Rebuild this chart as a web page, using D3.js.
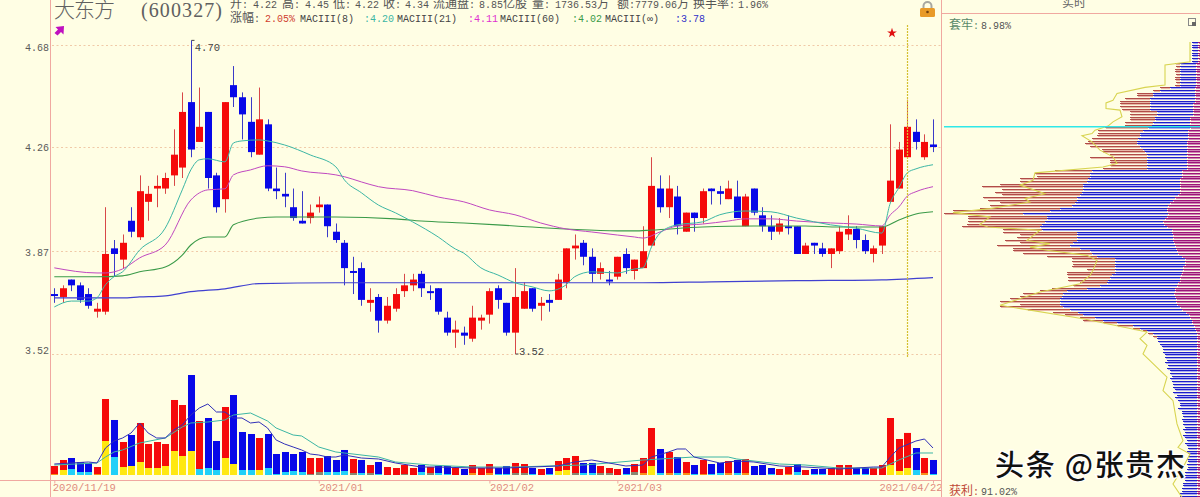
<!DOCTYPE html>
<html>
<head>
<meta charset="utf-8">
<script src="https://cdn.jsdelivr.net/npm/d3@7"></script>
<style>
  html, body { margin: 0; padding: 0; background: #fffee4; overflow: hidden; }
  svg { display: block; }
</style>
</head>
<body>
<div id="chart"></div>
<script>
// daily candles, prices
var open  = [3.72,3.71,3.77,3.75,3.72,3.66,3.66,3.88,3.84,3.98,3.92,4.05,4.10,4.10,4.15,4.18,4.44,4.28,4.40,4.15,4.06,4.51,4.46,4.36,4.23,4.35,4.10,4.08,4.03,3.98,3.99,4.03,4.04,3.94,3.90,3.80,3.81,3.69,3.71,3.63,3.67,3.73,3.75,3.79,3.73,3.74,3.64,3.59,3.59,3.57,3.63,3.65,3.74,3.69,3.59,3.67,3.74,3.68,3.70,3.70,3.76,3.88,3.90,3.85,3.79,3.77,3.78,3.86,3.80,3.81,3.89,4.10,4.03,4.07,3.94,4.01,3.99,4.10,4.09,4.06,4.07,3.96,4.10,4.00,3.96,3.94,3.96,3.96,3.86,3.90,3.88,3.86,3.87,3.93,3.95,3.91,3.86,3.89,4.05,4.10,4.22,4.32,4.22,4.27];
var close = [3.72,3.74,3.75,3.70,3.68,3.67,3.86,3.86,3.90,3.94,4.09,4.08,4.11,4.14,4.23,4.40,4.25,4.34,4.14,4.03,4.44,4.46,4.39,4.24,4.37,4.10,4.09,4.07,3.99,3.97,4.01,4.04,3.96,3.91,3.81,3.80,3.70,3.70,3.63,3.68,3.72,3.75,3.77,3.74,3.73,3.66,3.59,3.60,3.58,3.64,3.64,3.73,3.70,3.59,3.71,3.73,3.67,3.69,3.69,3.77,3.88,3.89,3.85,3.79,3.81,3.77,3.85,3.81,3.84,3.87,4.11,4.03,4.10,3.96,4.01,3.99,4.09,4.09,4.08,4.10,3.99,4.07,4.01,3.96,3.94,3.97,3.96,3.86,3.89,3.89,3.86,3.88,3.94,3.95,3.91,3.87,3.88,3.96,4.13,4.25,4.34,4.28,4.28,4.26];
var high  = [3.74,3.75,3.77,3.76,3.74,3.69,4.03,3.91,3.93,4.03,4.15,4.11,4.15,4.16,4.33,4.48,4.70,4.50,4.40,4.16,4.44,4.59,4.48,4.46,4.50,4.37,4.18,4.16,4.10,4.09,4.04,4.07,4.04,3.97,3.91,3.85,3.83,3.74,3.72,3.71,3.74,3.79,3.79,3.80,3.75,3.74,3.66,3.63,3.61,3.68,3.65,3.74,3.75,3.69,3.81,3.76,3.74,3.71,3.72,3.79,3.88,3.93,3.91,3.88,3.83,3.80,3.85,3.88,3.84,3.96,4.22,4.15,4.15,4.11,4.01,4.01,4.10,4.10,4.11,4.13,4.13,4.08,4.10,4.03,4.00,3.99,4.00,3.96,3.90,3.90,3.90,3.88,3.96,4.00,3.96,3.93,3.89,3.96,4.35,4.28,4.45,4.37,4.31,4.37];
var low   = [3.69,3.69,3.73,3.69,3.67,3.64,3.65,3.78,3.81,3.92,3.91,3.98,4.03,4.08,4.11,4.14,4.22,4.28,4.10,4.01,4.01,4.42,4.29,4.22,4.23,4.09,4.06,4.03,3.98,3.97,3.97,4.01,3.92,3.90,3.75,3.72,3.68,3.66,3.59,3.62,3.66,3.71,3.73,3.71,3.70,3.65,3.58,3.54,3.55,3.56,3.60,3.62,3.67,3.58,3.52,3.67,3.66,3.63,3.66,3.70,3.74,3.84,3.82,3.76,3.77,3.75,3.77,3.79,3.77,3.81,3.89,4.01,3.99,3.93,3.94,3.94,3.97,4.04,4.04,4.06,3.99,3.96,4.00,3.94,3.91,3.93,3.93,3.86,3.86,3.86,3.85,3.81,3.86,3.91,3.88,3.86,3.83,3.86,4.05,4.10,4.22,4.25,4.21,4.24];

// moving averages, read at the points listed in the *Idx arrays
var ma8Idx = [0,2,4,5,6,7,8,10,13,15,16,17,18,20,21,22,24,25,27,30,33,34,36,38,40,42,45,47,48,50,52,54,56,58,60,61,63,66,68,69,70,71,73,76,78,81,84,87,91,94,97,98,99,100,101,103];
var ma8 = [3.676,3.696,3.696,3.707,3.752,3.780,3.797,3.874,3.953,4.095,4.171,4.210,4.214,4.202,4.276,4.284,4.288,4.284,4.268,4.229,4.183,4.133,4.084,4.038,4.009,3.976,3.921,3.878,3.863,3.811,3.786,3.759,3.745,3.731,3.752,3.780,3.797,3.793,3.807,3.811,3.885,3.935,3.965,3.976,4.002,4.016,4.013,3.990,3.965,3.953,3.935,4.046,4.103,4.160,4.175,4.191];
var ma21Idx = [0,5,6,8,10,13,16,18,20,21,23,25,27,29,33,34,36,38,42,45,48,51,54,57,60,63,66,68,69,71,73,76,79,81,84,87,91,94,97,98,99,100,101,103];
var ma21 = [3.811,3.793,3.793,3.807,3.846,3.892,4.057,4.095,4.099,4.152,4.171,4.187,4.183,4.167,4.152,4.145,4.125,4.107,4.092,4.068,4.050,4.020,4.002,3.972,3.950,3.939,3.928,3.921,3.917,3.939,3.961,3.968,3.979,3.987,3.987,3.979,3.972,3.968,3.961,4.002,4.031,4.072,4.088,4.107];
var ma60Idx = [0,5,8,10,13,15,16,18,20,21,24,26,33,40,43,48,54,60,66,68,70,76,82,88,92,97,99,101,103];
var ma60 = [3.780,3.780,3.783,3.797,3.814,3.856,3.892,3.921,3.921,3.965,3.990,3.994,3.994,3.987,3.979,3.972,3.961,3.950,3.943,3.943,3.946,3.957,3.961,3.961,3.957,3.957,3.983,4.005,4.013];
var maInfIdx = [0,8,10,13,16,20,24,33,69,77,87,97,103];
var maInf = [3.707,3.707,3.710,3.714,3.728,3.738,3.756,3.759,3.759,3.762,3.766,3.769,3.777];

// volume in 万 shares, plus the coloured part at the foot of each bar
var volume = [372,620,702,537,496,330,3139,2272,1363,1652,2148,1280,1363,1280,3098,2891,4130,2230,2354,1404,2808,3304,1776,1693,1528,1693,867,950,867,950,702,702,785,620,1033,661,620,413,537,330,289,413,289,413,330,372,372,289,248,413,289,454,289,372,496,454,289,248,289,578,702,785,496,496,372,289,248,289,454,702,1941,1074,950,743,537,413,620,454,496,578,620,661,372,413,289,248,330,454,207,248,248,289,413,413,289,289,289,413,2354,1487,1737,1115,702,620];
var volPart = [41,207,248,124,124,41,1404,743,330,372,537,289,289,372,991,785,991,248,289,207,702,454,207,207,207,289,41,124,165,124,41,124,124,124,165,83,83,83,41,0,0,41,0,124,83,83,41,0,0,83,0,83,41,41,83,83,41,0,41,165,207,83,83,83,83,83,0,41,124,83,372,83,83,83,83,41,41,41,83,83,83,83,0,0,41,0,41,124,0,41,41,0,0,0,41,41,0,0,413,165,289,207,83,41];
// y yellow, c cyan, o orange, g grey
var volPartKind = ["o","y","c","c","c","o","y","c","y","y","y","y","y","y","y","y","y","c","c","c","y","y","c","c","y","c","c","c","c","c","g","g","c","c",
  "c","g","c","g","c","o","o","g","o","c","g","c","c","o","c","o","o","o","c","c","g","g","c","o","c","y","y","g","c","c","g","g","o","c","g",
  "o","y","c","o","c","o","c","o","c","c","o","c","o","c","c","c","o","o","c","o","c","c","o","o","o","c","c","o","o","y","y","y","c","o","c"];
var vmaShortIdx = [0,4,5,6,7,8,9,10,11,12,13,14,15,16,17,18,19,20,21,22,23,24,25,26,27,28,29,30,31,32,33,34,36,38,40,43,45,49,53,56,59,61,63,65,67,69,70,72,73,74,75,78,80,82,85,88,92,96,97,98,99,101,102,103];
var vmaShort = [454,537,496,1115,1404,1528,1735,2148,1735,1528,1528,1859,2065,2478,2767,2932,2602,2602,2354,2354,2148,2189,1941,1446,1280,1156,1033,867,826,743,743,826,702,661,496,330,330,289,289,330,372,537,620,496,372,413,743,950,1074,1074,743,496,578,537,372,330,248,330,330,743,1115,1404,1487,1115];
var vmaLongIdx = [0,5,6,7,8,10,13,15,16,18,20,21,23,25,26,28,29,31,33,34,38,40,44,49,54,58,62,65,69,71,75,79,80,85,88,92,97,99,101,103];
var vmaLong = [413,496,743,950,1033,1322,1528,1982,2148,2189,2272,2478,2561,2230,1941,1652,1611,1156,950,909,743,537,413,330,330,372,413,496,620,661,743,743,661,454,413,289,289,620,909,909];

// axis labels
var priceTicks = [4.68,4.26,3.87,3.52];
var dateTickIdx = [0,31,51,66,103];
var dateTickLabels = ["2020/11/19","2021/01","2021/02","2021/03","2021/04/22"];

// chip distribution: one row per price step, total / blue+magenta / magenta widths
var chipTotal = [8,8,8,8,8,8,8,8,25,24,25,25,24,25,25,24,25,40,47,63,63,75,80,80,80,78,70,70,70,70,75,75,95,102,102,103,108,112,115,110,98,98,90,110,90,90,90,97,145,165,163,180,180,200,218,198,205,198,217,212,200,210,220,247,256,232,232,232,233,238,197,197,180,183,195,180,203,187,187,177,153,128,128,127,128,113,133,133,132,132,120,127,148,160,177,180,190,200,180,200,173,147,135,120,117,97,83,67,57,52,47,43,42,40,38,37,37,35,35,33,35,32,33,30,30,28,30,28,27,27,25,27,23,25,22,20,20,22,18,18,17,18,17,17,15,17,15,17,15,13,15,13,12,13,12,12,13,12,13,12,13,15,15,17,15,17,17,18,18,20,20];
var chipBlue = [8,8,8,8,8,8,8,8,20,20,20,20,20,20,20,20,20,30,40,47,47,50,50,50,50,50,43,43,45,45,47,48,52,57,60,60,62,63,63,60,57,55,53,53,53,53,53,53,108,110,110,112,113,117,117,117,118,120,123,123,125,128,140,150,177,153,153,155,158,160,158,123,123,123,123,127,130,120,110,108,103,85,85,85,85,85,85,88,90,92,93,100,113,133,137,138,140,140,140,137,130,122,117,105,97,83,67,60,53,47,43];
var chipMag = [2,2,2,2,2,2,2,2,4,4,4,4,4,4,4,4,4,5,5,5,5,5,5,7,7,7,7,7,10,10,10,10,10,12,12,12,12,13,13,13,13,13,13,13,13,13,13,13,18,18,18,20,20,20,20,20,20,22,25,27,30,32,33,33,32,33,35,37,36,33,28,28,27,27,27,26,25,24,23,22,18,15,15,15,17,17,18,19,20,20,22,23,25,25,26,25,24,24,23,20,18,14,11,10,8,8,6,5,4,3,3];
var chipOutlineRow = [0,7.4,8.6,16.1,17,19.3,21.8,22.8,24.9,25.5,28,29.9,31.5,33,34.3,35.1,37.4,40.5,43,45.5,46.8,49,51.8,53.6,56.8,58.6,59.9,62.4,63.9,65.5,68.3,69.3,70.5,74.3,75.5,76.8,78,79.9,81.8,85.5,87.4,90.5,93.6,98.6,103.6,108.6,111.1,113.6,116.8,125.5,130.5,134.3,143,149.3,151.8,154.3,159.3,165.5,170.5];
var chipOutlineW = [10,10,35,35,55,83,87,94,94,80,78,87,92,105,108,118,108,100,87,83,97,165,167,180,155,175,170,210,247,210,220,212,160,173,150,170,153,113,103,107,110,120,160,200,117,53,60,53,57,33,37,27,23,17,22,10,17,27,18];

var n = open.length;

// main colours
var bg = "#fffee4";
var frame = "#f0a8a0";
var upColor = "#f50a0a";
var downColor = "#0808e8";
var ma8Color = "#3cb6a4";
var ma21Color = "#c048c0";
var ma60Color = "#3a9a48";
var maInfColor = "#4040d0";
var partColors = { y: "#ffe810", c: "#20d0f8", o: "#f89018", g: "#8a8870" };
var monoFont = "'Liberation Mono','DejaVu Sans Mono',monospace";
var cjkFont = "'Noto Sans CJK SC',sans-serif";

var svg = d3.select("#chart").append("svg")
  .attr("width", 1200)
  .attr("height", 497)
  .style("background", bg);

var x = d3.scaleLinear().domain([0, n - 1]).range([54.3, 933]);
var y = d3.scaleLog().domain([4.68, 3.52]).range([45, 354]);
var yVol = d3.scaleLinear().domain([0, 4130]).range([475, 375]);
var xChip = d3.scaleLinear().domain([0, 260]).range([1200, 940]);
var yChip = d3.scaleLinear().domain([0, 170]).range([42, 496]);

var bodyW = 7;

// grid, every tick is a dotted line
svg.append("g").selectAll("line")
  .data(priceTicks)
  .enter().append("line")
  .attr("x1", 52)
  .attr("x2", 941)
  .attr("y1", function(d){return Math.round(y(d)) + 0.5;})
  .attr("y2", function(d){return Math.round(y(d)) + 0.5;})
  .attr("stroke", "#f0caa8")
  .attr("stroke-dasharray", "2,2.5");

// price axis, the labels sit a little off their grid lines
var tickNudge = [2, 0, 1, -4];
var yAxis = d3.axisLeft(y)
  .tickValues(priceTicks)
  .tickFormat(d3.format(".2f"))
  .tickSize(0);
var yAxisG = svg.append("g")
  .attr("transform", "translate(49,0)")
  .call(yAxis);
yAxisG.select(".domain").remove();
yAxisG.selectAll("text")
  .attr("x", 0)
  .attr("y", function(d, i){return tickNudge[i];})
  .attr("dy", "0.35em")
  .attr("fill", "#5a5a5a")
  .style("font-family", monoFont)
  .style("font-size", "10px");

// date axis
var xAxis = d3.axisBottom(x)
  .tickValues(dateTickIdx)
  .tickFormat(function(d, i){return dateTickLabels[i];})
  .tickSize(3);
var xAxisG = svg.append("g")
  .attr("transform", "translate(0,480.5)")
  .call(xAxis);
xAxisG.select(".domain").remove();
xAxisG.selectAll("line").attr("stroke", frame);
xAxisG.selectAll("text")
  .attr("y", 3)
  .attr("dx", function(d){return d === 103 ? -54 : (d === 0 ? -2 : 0);})
  .attr("text-anchor", "start")
  .attr("fill", "#e08a7c")
  .style("font-family", monoFont)
  .style("font-size", "10.5px");

// wicks then bodies
var candles = svg.append("g");
candles.selectAll("line")
  .data(d3.range(n))
  .enter().append("line")
  .attr("x1", function(i){return Math.round(x(i)) + 0.5;})
  .attr("x2", function(i){return Math.round(x(i)) + 0.5;})
  .attr("y1", function(i){return y(high[i]);})
  .attr("y2", function(i){return y(low[i]);})
  .attr("stroke", function(i){return close[i] > open[i] ? "#d84848" : "#3a3ac8";})
  .attr("stroke-width", 1);
candles.selectAll("rect")
  .data(d3.range(n))
  .enter().append("rect")
  .attr("x", function(i){return Math.round(x(i)) + 0.5 - bodyW / 2;})
  .attr("y", function(i){return y(Math.max(open[i], close[i]));})
  .attr("width", bodyW)
  .attr("height", function(i){return Math.max(2, Math.abs(y(open[i]) - y(close[i])));})
  .attr("fill", function(i){return close[i] > open[i] ? upColor : downColor;});

// average lines
var maSeries = [
  { idx: maInfIdx, val: maInf, color: maInfColor, w: 1.2 },
  { idx: ma60Idx, val: ma60, color: ma60Color, w: 1.1 },
  { idx: ma21Idx, val: ma21, color: ma21Color, w: 1 },
  { idx: ma8Idx, val: ma8, color: ma8Color, w: 1 }
];
var maLine = d3.line()
  .curve(d3.curveMonotoneX)
  .x(function(d){return x(d[0]);})
  .y(function(d){return y(d[1]);});
svg.append("g").selectAll("path")
  .data(maSeries)
  .enter().append("path")
  .attr("d", function(s){return maLine(d3.zip(s.idx, s.val));})
  .attr("fill", "none")
  .attr("stroke", function(s){return s.color;})
  .attr("stroke-width", function(s){return s.w;});

// high and low notes on the extreme candles
var extremes = [
  { i: 16, price: 4.70, dy: 11 },
  { i: 54, price: 3.52, dy: 1 }
];
var notes = svg.append("g");
notes.selectAll("path")
  .data(extremes)
  .enter().append("path")
  .attr("d", function(d){
    var px = Math.round(x(d.i)) + 0.5;
    return "M" + px + "," + y(d.price) + "h3";
  })
  .attr("stroke", "#444")
  .attr("fill", "none");
notes.selectAll("text")
  .data(extremes)
  .enter().append("text")
  .attr("x", function(d){return x(d.i) + 4;})
  .attr("y", function(d){return y(d.price) + d.dy;})
  .attr("fill", "#444")
  .style("font-family", monoFont)
  .style("font-size", "10.5px")
  .text(function(d){return d.price.toFixed(2);});

// volume bars
var vol = svg.append("g");
vol.selectAll("rect.bar")
  .data(d3.range(n))
  .enter().append("rect")
  .attr("class", "bar")
  .attr("x", function(i){return Math.round(x(i)) + 0.5 - bodyW / 2;})
  .attr("y", function(i){return yVol(volume[i]);})
  .attr("width", bodyW)
  .attr("height", function(i){return yVol(0) - yVol(volume[i]);})
  .attr("fill", function(i){return close[i] >= open[i] ? upColor : downColor;});
vol.selectAll("rect.part")
  .data(d3.range(n))
  .enter().append("rect")
  .attr("class", "part")
  .attr("x", function(i){return Math.round(x(i)) + 0.5 - bodyW / 2;})
  .attr("y", function(i){return yVol(volPart[i]);})
  .attr("width", bodyW)
  .attr("height", function(i){return yVol(0) - yVol(volPart[i]);})
  .attr("fill", function(i){return partColors[volPartKind[i]];});

var volLine = d3.line()
  .x(function(d){return x(d[0]);})
  .y(function(d){return yVol(d[1]);});
svg.append("path")
  .attr("d", volLine(d3.zip(vmaLongIdx, vmaLong)))
  .attr("fill", "none")
  .attr("stroke", ma8Color);
svg.append("path")
  .attr("d", volLine(d3.zip(vmaShortIdx, vmaShort)))
  .attr("fill", "none")
  .attr("stroke", "#3030b8");

// chip rows on the right, a pale band under a crisp dark line
var rows = d3.range(chipTotal.length);
function blueW(r){ return r < chipBlue.length ? chipBlue[r] : chipTotal[r]; }
function magW(r){ return r < chipMag.length ? chipMag[r] : 3; }
function rowY(r){ return Math.round(yChip(r)) + 0.5; }
var chipLayers = [
  { from: blueW, to: function(r){return chipTotal[r];}, pale: "#e8b6a6", dark: "#b04c48" },
  { from: magW, to: blueW, pale: "#acacf4", dark: "#1e1ec8" },
  { from: function(){return 0;}, to: magW, pale: "#d084b4", dark: "#9c1478" }
];
var chipG = svg.append("g");
chipLayers.forEach(function(layer){
  chipG.append("g").selectAll("line")
    .data(rows)
    .enter().append("line")
    .attr("x1", function(r){return xChip(layer.from(r));})
    .attr("x2", function(r){return xChip(Math.max(layer.to(r) - 1, layer.from(r)));})
    .attr("y1", function(r){return rowY(r) + 1;})
    .attr("y2", function(r){return rowY(r) + 1;})
    .attr("stroke", layer.pale)
    .attr("stroke-width", 1.2);
  chipG.append("g").selectAll("line")
    .data(rows)
    .enter().append("line")
    .attr("x1", function(r){return xChip(layer.from(r));})
    .attr("x2", function(r){return xChip(layer.to(r));})
    .attr("y1", rowY)
    .attr("y2", rowY)
    .attr("stroke", layer.dark)
    .attr("stroke-width", 1);
});
svg.append("path")
  .attr("d", d3.line()
    .x(function(d){return xChip(d[1]);})
    .y(function(d){return yChip(d[0]);})(d3.zip(chipOutlineRow, chipOutlineW)))
  .attr("fill", "none")
  .attr("stroke", "#d8d450")
  .attr("stroke-width", 1.1);

// frame
var frameLines = [
  [50.5, 0, 50.5, 497],
  [0, 480.5, 941, 480.5],
  [941.5, 0, 941.5, 497],
  [941, 13.5, 1200, 13.5]
];
svg.append("g").selectAll("line")
  .data(frameLines)
  .enter().append("line")
  .attr("x1", function(d){return d[0];})
  .attr("y1", function(d){return d[1];})
  .attr("x2", function(d){return d[2];})
  .attr("y2", function(d){return d[3];})
  .attr("stroke", frame);

// current price line and crosshair
svg.append("line")
  .attr("x1", 944).attr("x2", 1200)
  .attr("y1", y(close[100]))
  .attr("y2", y(close[100]))
  .attr("stroke", "#30e8e8")
  .attr("stroke-width", 1.6);
svg.append("line")
  .attr("x1", Math.round(x(100)) + 0.5)
  .attr("x2", Math.round(x(100)) + 0.5)
  .attr("y1", 25).attr("y2", 357)
  .attr("stroke", "#d4c030")
  .attr("stroke-width", 1.2)
  .attr("stroke-dasharray", "2,1");

// star, arrow, lock and panel icon
svg.append("path")
  .attr("d", d3.symbol(d3.symbolStar, 30))
  .attr("transform", "translate(892,33)")
  .attr("fill", "#e01010");
svg.append("path")
  .attr("d", "M54.5,33 L58,29.5 L55.5,27 L64,26 L63.5,34.5 L61,32 L57.5,35.5 Z")
  .attr("fill", "#c010c0");
var lock = svg.append("g").attr("transform", "translate(920,1)");
lock.append("path").attr("d", "M3.5,8 V5 a4,4 0 0 1 8,0 V8").attr("fill", "none").attr("stroke", "#a8a8a0").attr("stroke-width", 2);
lock.append("rect").attr("x", 0).attr("y", 7).attr("width", 15).attr("height", 9).attr("rx", 1.5).attr("fill", "#e89a28");
lock.append("circle").attr("cx", 7.5).attr("cy", 11).attr("r", 1.3).attr("fill", "#70400f");
svg.append("rect")
  .attr("x", 1188.5).attr("y", 18.5).attr("width", 7).attr("height", 7)
  .attr("fill", "none").attr("stroke", "#888");
svg.append("rect")
  .attr("x", 1192).attr("y", 22).attr("width", 4).attr("height", 4)
  .attr("fill", "#666");

// mixed header text: narrow digits, wider CJK glyphs
function addText(parent, px, py, str, color){
  var t = parent.append("text")
    .attr("x", px)
    .attr("y", py)
    .attr("fill", color);
  str.split(/([\u3000-\u9fff\uff00-\uffef]+)/).forEach(function(part){
    if (part === "") return;
    var cjk = /[\u3000-\u9fff\uff00-\uffef]/.test(part);
    t.append("tspan")
      .style("font-family", cjk ? cjkFont : monoFont)
      .style("font-size", cjk ? "12px" : "10px")
      .text(part);
  });
  return t;
}

// title is cut by the top edge of the window
svg.append("text")
  .attr("x", 54).attr("y", 17)
  .attr("fill", "#606060")
  .attr("textLength", 61)
  .style("font-family", cjkFont)
  .style("font-weight", 300)
  .style("font-size", "21px")
  .text("大东方");
svg.append("text")
  .attr("x", 141).attr("y", 17)
  .attr("fill", "#606060")
  .attr("textLength", 81)
  .style("font-family", "'Liberation Serif',serif")
  .style("font-size", "20px")
  .text("(600327)");

var headerText = ["开:","4.22","高:","4.45","低:","4.22","收:","4.34","流通盘:","8.85亿股","量:","1736.53万","额:","7779.06万","换手率:","1.96%"];
var headerX = [230,253,282,305,333,355,383,405,433,479,532,555,617,635,693,738];
var header = svg.append("g");
headerText.forEach(function(s, i){
  addText(header, headerX[i], 8, s, "#555");
});

var legendText = ["涨幅:","2.05%","MACIII(8)",":4.20","MACIII(21)",":4.11","MACIII(60)",":4.02","MACIII(∞)",":3.78"];
var legendColor = ["#555","#d04030","#444",ma8Color,"#444","#e030d0","#444",ma60Color,"#444","#3030c8"];
var legendX = [230,265,300,364,397,468,500,572,605,675];
legendText.forEach(function(s, i){
  addText(header, legendX[i], 22, s, legendColor[i]);
});

// right panel captions
addText(svg, 1062, 7, "实时", "#666");
addText(svg, 949, 29, "套牢:", "#5a8a6a");
addText(svg, 981, 29, "8.98%", "#555");
addText(svg, 949, 495, "获利:", "#c04838");
addText(svg, 981, 495, "91.02%", "#555");

// watermark
svg.append("text")
  .attr("x", 995).attr("y", 476)
  .attr("fill", "#111")
  .attr("stroke", "#fff")
  .attr("stroke-width", 2.5)
  .attr("paint-order", "stroke")
  .attr("textLength", 190)
  .style("font-family", cjkFont)
  .style("font-weight", 500)
  .style("font-size", "29px")
  .text("头条 @张贵杰");
</script>
</body>
</html>
